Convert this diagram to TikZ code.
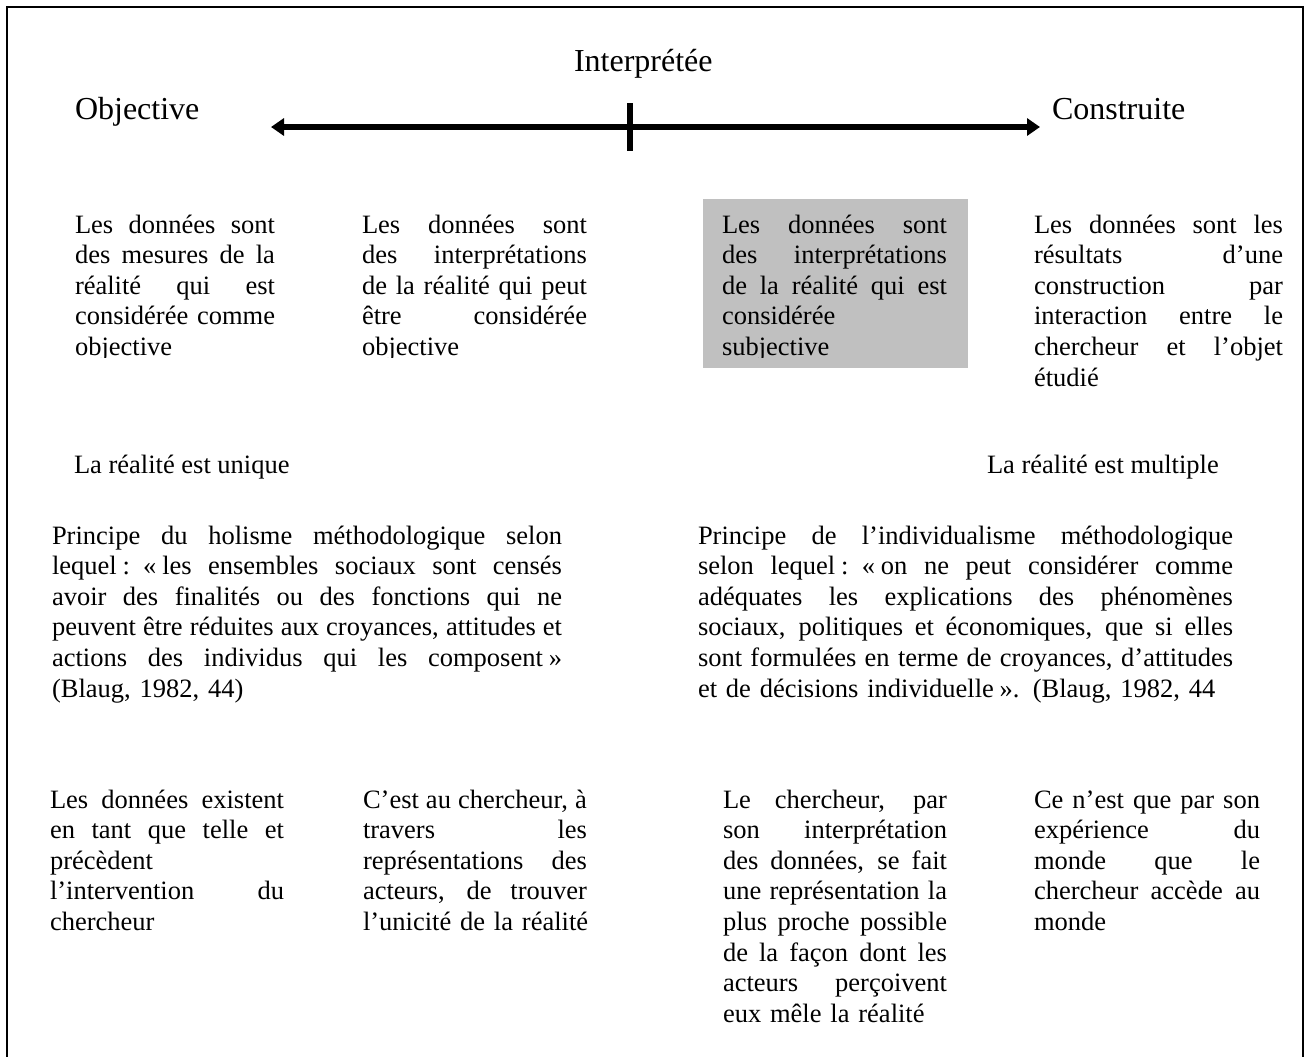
\documentclass[tikz,border=0pt]{standalone}
\usepackage{fontspec}
\setmainfont{Liberation Serif}
\usetikzlibrary{arrows.meta}
\definecolor{boxgray}{RGB}{192,192,192}
\newlength{\blkw}
\newcommand{\jl}[1]{\leavevmode\hbox to \blkw{\spaceskip=.25em plus 1fil\relax #1}\\}
\newcommand{\nbs}{\kern.22em}
\begin{document}
\begin{tikzpicture}[x=0.5pt,y=-0.5pt,
  body/.style={anchor=base west, inner sep=0pt, outer sep=0pt, align=left,
    font=\fontsize{13.25pt}{15.3pt}\selectfont},
  head/.style={anchor=base west, inner sep=0pt, outer sep=0pt,
    font=\fontsize{16pt}{18pt}\selectfont},
  axis/.style={line width=3pt,
    {Triangle[length=6.5pt,width=8.5pt]}-{Triangle[length=6.5pt,width=8.5pt]}},
  tickline/.style={line width=3pt},
  frameline/.style={line width=1.2pt}]
\useasboundingbox (0,0) rectangle (1305,1056);
% frame (open at the bottom)
\draw[frameline] (7,1060) -- (7,7) -- (1303,7) -- (1303,1060);
% headings
\node[head] (interp) at (574,71) {Interprétée};
\node[head] (obj) at (75,119) {Objective};
\node[head] (constr) at (1052,119) {Construite};
% axis
\coordinate (axL) at (271,127);
\coordinate (axR) at (1040,127);
\coordinate (tickT) at (630,103);
\coordinate (tickB) at (630,151);
\draw[axis] (axL) -- (axR);
\draw[tickline] (tickT) -- (tickB);
% gray box
\node[fill=boxgray, anchor=north west, minimum width=132.5pt, minimum height=84.5pt, inner sep=0pt] (gbox) at (703,199) {};
% first row of text (bottom clipped)
\begin{scope}
\clip (0,0) rectangle (1000,357);
\node[body, text width=100pt] (t1) at (75,233) {\setlength\blkw{100pt}\jl{Les données sont}\jl{des mesures de la}\jl{réalité qui est}\jl{considérée comme}objective};
\node[body, text width=112.5pt] (t2) at (362,233) {\setlength\blkw{112.5pt}\jl{Les données sont}\jl{des interprétations}\jl{de la réalité qui peut}\jl{être considérée}objective};
\node[body, text width=112.5pt] (t3) at (722,233) {\setlength\blkw{112.5pt}\jl{Les données sont}\jl{des interprétations}\jl{de la réalité qui est}considérée\\subjective};
\end{scope}
\node[body, text width=124.5pt] (t4) at (1034,233) {\setlength\blkw{124.5pt}\jl{Les données sont les}\jl{résultats d’une}\jl{construction par}\jl{interaction entre le}\jl{chercheur et l’objet}étudié};
% reality
\node[body] (unique) at (74,473) {La réalité est unique};
\node[body] (multiple) at (987,473) {La réalité est multiple};
% paragraphs
\node[body, text width=255pt] (holisme) at (52,544) {\setlength\blkw{255pt}\jl{Principe du holisme méthodologique selon}\jl{lequel\nbs: «\nbs les ensembles sociaux sont censés}\jl{avoir des finalités ou des fonctions qui ne}\jl{peuvent être réduites aux croyances, attitudes et}\jl{actions des individus qui les composent\nbs»}(Blaug, 1982, 44)};
\node[body, text width=267.5pt] (indiv) at (698,544) {\setlength\blkw{267.5pt}\jl{Principe de l’individualisme méthodologique}\jl{selon lequel\nbs: «\nbs on ne peut considérer comme}\jl{adéquates les explications des phénomènes}\jl{sociaux, politiques et économiques, que si elles}\jl{sont formulées en terme de croyances, d’attitudes}et de décisions individuelle\nbs». (Blaug, 1982, 44};
% bottom row
\node[body, text width=117pt] (b1) at (50,808) {\setlength\blkw{117pt}\jl{Les données existent}\jl{en tant que telle et}précèdent\\\jl{l’intervention du}chercheur};
\node[body, text width=120pt] (b2) at (363,808) {\setlength\blkw{112pt}\jl{C’est au chercheur, à}\jl{travers les}\jl{représentations des}\jl{acteurs, de trouver}l’unicité de la réalité};
\node[body, text width=112pt] (b3) at (723,808) {\setlength\blkw{112pt}\jl{Le chercheur, par}\jl{son interprétation}\jl{des données, se fait}\jl{une représentation la}\jl{plus proche possible}\jl{de la façon dont les}\jl{acteurs perçoivent}eux mêle la réalité};
\node[body, text width=113pt] (b4) at (1034,808) {\setlength\blkw{113pt}\jl{Ce n’est que par son}\jl{expérience du}\jl{monde que le}\jl{chercheur accède au}monde};
\end{tikzpicture}
\end{document}
